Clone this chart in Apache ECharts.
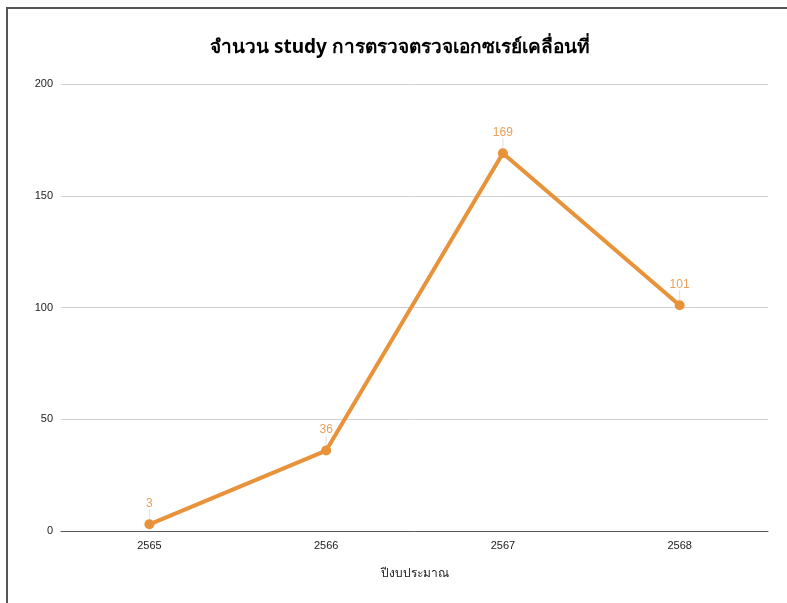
<!DOCTYPE html>
<html>
<head>
<meta charset="utf-8">
<script src="https://cdn.jsdelivr.net/npm/echarts@6/dist/echarts.min.js"></script>
<style>
html,body{margin:0;padding:0;background:#fff;overflow:hidden;}
#frame{position:absolute;left:6px;top:7px;width:800px;height:620px;border-left:2px solid #555;border-top:2px solid #555;box-sizing:border-box;}
#chart{position:absolute;left:0;top:0;width:787px;height:603px;}
</style>
</head>
<body>
<div id="frame"></div>
<div id="chart"></div>
<script>
var titleText = 'จำนวน study การตรวจตรวจเอกซเรย์เคลื่อนที่';
var xAxisName = 'ปีงบประมาณ';
var categories = ['2565', '2566', '2567', '2568'];
var values = [3, 36, 169, 101];
var yTicks = [0, 50, 100, 150, 200];

var chart = echarts.init(document.getElementById('chart'), null, {renderer: 'canvas'});
chart.setOption({
  backgroundColor: 'transparent',
  animation: false,
  title: {
    text: titleText,
    left: 205,
    top: 33,
    textStyle: {fontSize: 19, fontWeight: 'bold', color: '#000', fontFamily: 'Tahoma, "Noto Sans", "DejaVu Sans", sans-serif'}
  },
  grid: {left: 61, right: 19, top: 84, bottom: 72},
  xAxis: {
    type: 'category',
    data: categories,
    boundaryGap: true,
    name: xAxisName,
    nameLocation: 'middle',
    nameGap: 37,
    nameTextStyle: {fontSize: 12, color: '#222'},
    axisLine: {lineStyle: {color: '#595959', width: 1}},
    axisTick: {show: false},
    axisLabel: {fontSize: 11, color: '#222', margin: 9}
  },
  yAxis: {
    type: 'value',
    min: yTicks[0],
    max: yTicks[yTicks.length - 1],
    interval: 50,
    axisLine: {show: false},
    axisTick: {show: false},
    axisLabel: {fontSize: 11, color: '#222', margin: 8},
    splitLine: {lineStyle: {color: '#d0d0d0', width: 1}}
  },
  series: [{
    type: 'line',
    data: values,
    color: '#E8923A',
    lineStyle: {width: 4, color: '#E8923A'},
    symbol: 'circle',
    symbolSize: 10,
    itemStyle: {color: '#E8923A'},
    label: {
      show: true,
      position: 'top',
      distance: 4,
      fontSize: 12,
      color: '#EBA05A'
    },
    labelLayout: {dy: -6},
    labelLine: {show: true, lineStyle: {color: '#e0e0e0', width: 1}}
  }]
});
</script>
</body>
</html>
